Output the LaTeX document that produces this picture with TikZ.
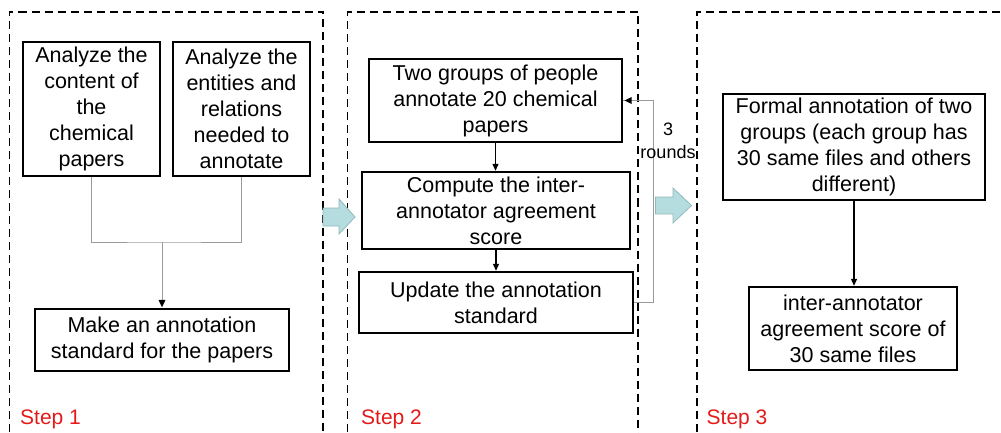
\documentclass[tikz,border=0pt]{standalone}
\usepackage{fontspec}
\setmainfont{Liberation Sans}
\usetikzlibrary{arrows.meta}
\definecolor{stepred}{HTML}{E41A1A}
\definecolor{bigfill}{HTML}{B5DCDF}
\definecolor{bigline}{HTML}{93B9BD}
\definecolor{conngray}{HTML}{9A9A9A}
\tikzset{
  box/.style={draw=black, line width=2.4pt, inner sep=0pt, align=center,
    font=\fontsize{21.5}{26}\selectfont},
  frame/.style={draw=black, line width=1.2pt, dash pattern=on 8pt off 5pt},
  steplabel/.style={text=stepred, font=\fontsize{21}{25}\selectfont, anchor=base west, inner sep=0pt},
  grayconn/.style={draw=conngray, line width=1pt},
  blackarrow/.style={draw=black, line width=1.2pt, -{Triangle[length=7pt,width=6pt]}},
  bigarrow/.style={fill=bigfill, draw=bigline, line width=0.8pt},
}
\begin{document}
\begin{tikzpicture}[x=1pt,y=-1pt]
\useasboundingbox (0,0) rectangle (1001,433);
% frames
\draw[frame] (9.5,445) -- (9.5,12) -- (323,12) -- (323,445);
\draw[frame] (347.5,445) -- (347.5,12) -- (638,12) -- (638,445);
\draw[frame] (697,445) -- (697,12) -- (1010,12);
% big arrows
\draw[bigarrow] (323,208) -- (339,208) -- (339,199) -- (355,217) -- (339,234) -- (339,226) -- (323,226) -- cycle;
\draw[bigarrow] (655.5,197) -- (673,197) -- (673,188) -- (691.5,205.5) -- (673,223) -- (673,214) -- (655.5,214) -- cycle;
% step 1
\node[box, minimum width=137pt, minimum height=134pt] (A) at (91.5,109) {Analyze the\\content of\\the\\chemical\\papers};
\node[box, minimum width=137pt, minimum height=134pt] (B) at (241.5,109) {Analyze the\\entities and\\relations\\needed to\\annotate};
\node[box, minimum width=254pt, minimum height=62pt] (C) at (162,340) {Make an annotation\\standard for the papers};
\coordinate (J) at (162,242);
\draw[grayconn] (A.south) |- (J) -| (B.south);
\draw[grayconn, -{Triangle[length=7pt,width=6pt]}, draw=conngray] (J) -- (C.north);
\fill[black] (C.north) ++(0,-1) -- ++(-3.5,-7) -- ++(7,0) -- cycle;
\node[steplabel] (S1) at (20,424) {Step 1};
% step 2
\node[box, minimum width=253pt, minimum height=83pt] (D) at (495.5,100.5) {Two groups of people\\annotate 20 chemical\\papers};
\node[box, minimum width=268pt, minimum height=77pt] (E) at (496,210.5) {Compute the inter-\\annotator agreement\\score};
\node[box, minimum width=274pt, minimum height=61pt] (F) at (496,302.5) {Update the annotation\\standard};
\draw[blackarrow] (D.south) -- (D.south |- E.north);
\draw[blackarrow] (E.south) -- (E.south |- F.north);
\coordinate (L) at (653,302.5);
\draw[grayconn] (F.east) -- (L) |- (D.east);
\fill[black] (D.east) ++(1.5,0) -- ++(7,-3.5) -- ++(0,7) -- cycle;
\node[align=center, inner sep=0pt, font=\fontsize{18}{23.5}\selectfont] (R) at (668,141) {3\\rounds};
\node[steplabel] (S2) at (361,424) {Step 2};
% step 3
\node[box, minimum width=262pt, minimum height=106pt] (G) at (854,147) {Formal annotation of two\\groups (each group has\\30 same files and others\\different)};
\node[box, minimum width=208pt, minimum height=83pt] (H) at (853,328.5) {inter-annotator\\agreement score of\\30 same files};
\draw[blackarrow] (G.south) -- (G.south |- H.north);
\node[steplabel] (S3) at (706.5,424) {Step 3};
\end{tikzpicture}
\end{document}
